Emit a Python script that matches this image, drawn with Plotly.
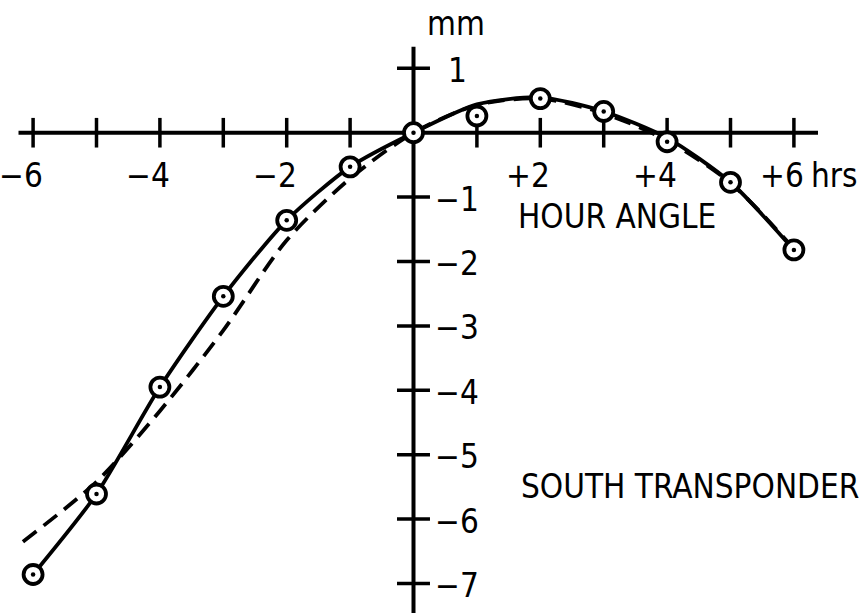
import plotly.graph_objects as go

# Measured displacement (mm) vs hour angle (hrs)
hours = [-6, -5, -4, -3, -2, -1, 0, 1, 2, 3, 4, 5, 6]
measured_mm = [-6.86, -5.61, -3.95, -2.54, -1.36, -0.53, 0.0, 0.26, 0.53, 0.33, -0.14, -0.77, -1.82]

# Smooth curve drawn through the measurements
fit_hours = [-6, -5, -4, -3, -2, -1, 0, 1, 2, 3, 4, 5, 6]
fit_mm = [-6.86, -5.61, -3.95, -2.54, -1.36, -0.53, 0.0, 0.44, 0.55, 0.33, -0.08, -0.77, -1.82]

# Predicted curve (dashed)
pred_hours = [-6.16, -5, -4, -3, -2, -1, 0, 1, 2, 3, 4, 5, 6]
pred_mm = [-6.35, -5.42, -4.32, -3.07, -1.67, -0.71, 0.0, 0.43, 0.53, 0.30, -0.12, -0.78, -1.80]

# Axis ticks and labels
x_ticks = [-6, -5, -4, -3, -2, -1, 1, 2, 3, 4, 5, 6]
x_labels = {-6: "\u22126", -4: "\u22124", -2: "\u22122", 2: "+2", 4: "+4", 6: "+6"}
y_ticks = [1, -1, -2, -3, -4, -5, -6, -7]
y_labels = {1: "1", -1: "\u22121", -2: "\u22122", -3: "\u22123", -4: "\u22124",
            -5: "\u22125", -6: "\u22126", -7: "\u22127"}

FONT = "DejaVu Sans Condensed, Liberation Sans Narrow, Liberation Sans, sans-serif"
FSIZE = 33
INK = "black"

fig = go.Figure()

# Crossed axes through the origin
x_axis_ext = (-6.23, 6.38)
y_axis_ext = (-7.6, 1.335)
fig.add_trace(go.Scatter(x=list(x_axis_ext), y=[0, 0], mode="lines",
                         line=dict(color=INK, width=4), hoverinfo="skip"))
fig.add_trace(go.Scatter(x=[0, 0], y=list(y_axis_ext), mode="lines",
                         line=dict(color=INK, width=4), hoverinfo="skip"))

# Tick marks crossing each axis
tx, ty = [], []
for t in x_ticks:
    tx += [t, t, None]
    ty += [-0.23, 0.23, None]
fig.add_trace(go.Scatter(x=tx, y=ty, mode="lines",
                         line=dict(color=INK, width=3.5), hoverinfo="skip"))
sx, sy = [], []
for t in y_ticks:
    sx += [-0.26, 0.26, None]
    sy += [t, t, None]
fig.add_trace(go.Scatter(x=sx, y=sy, mode="lines",
                         line=dict(color=INK, width=3.5), hoverinfo="skip"))

# Predicted (dashed) and fitted (solid) curves
fig.add_trace(go.Scatter(x=pred_hours, y=pred_mm, mode="lines",
                         line=dict(color=INK, width=3.8, dash="17px,9px",
                                   shape="spline", smoothing=0.8),
                         hoverinfo="skip"))
fig.add_trace(go.Scatter(x=fit_hours, y=fit_mm, mode="lines",
                         line=dict(color=INK, width=3.8, shape="spline", smoothing=0.7),
                         hoverinfo="skip"))

# Measured points: open circle with a centre dot
fig.add_trace(go.Scatter(x=hours, y=measured_mm, mode="markers",
                         marker=dict(symbol="circle", size=19, color="white",
                                     line=dict(color=INK, width=3.8)),
                         hoverinfo="skip"))
fig.add_trace(go.Scatter(x=hours, y=measured_mm, mode="markers",
                         marker=dict(symbol="circle", size=4.5, color=INK,
                                     line=dict(width=0)),
                         hoverinfo="skip"))

annotations = []
for t, lab in x_labels.items():
    annotations.append(dict(x=t, y=-0.66, text=lab, xanchor="right", yanchor="middle",
                            xshift=12, showarrow=False,
                            font=dict(family=FONT, size=FSIZE, color=INK)))
annotations.append(dict(x=6, y=-0.66, text="hrs", xanchor="left", yanchor="middle",
                        xshift=15, showarrow=False,
                        font=dict(family=FONT, size=FSIZE, color=INK)))
for t, lab in y_labels.items():
    annotations.append(dict(x=0.3 if t < 0 else 0.52, y=t, text=lab, xanchor="left",
                            yanchor="middle", yshift=-2, showarrow=False,
                            font=dict(family=FONT, size=FSIZE, color=INK)))
annotations.append(dict(x=0.67, y=1.69, text="mm", xanchor="center", yanchor="middle",
                        showarrow=False, font=dict(family=FONT, size=FSIZE, color=INK)))
annotations.append(dict(x=3.21, y=-1.30, text="HOUR ANGLE", xanchor="center",
                        yanchor="middle", showarrow=False,
                        font=dict(family=FONT, size=FSIZE, color=INK)))
annotations.append(dict(x=4.36, y=-5.49, text="SOUTH TRANSPONDER", xanchor="center",
                        yanchor="middle", showarrow=False,
                        font=dict(family=FONT, size=FSIZE, color=INK)))

fig.update_layout(
    width=867, height=613,
    margin=dict(l=0, r=0, t=0, b=0),
    paper_bgcolor="white", plot_bgcolor="white",
    showlegend=False,
    annotations=annotations,
    xaxis=dict(range=[-6.522, 7.153], visible=False, fixedrange=True),
    yaxis=dict(range=[-7.458, 2.061], visible=False, fixedrange=True),
)

fig.write_html("out.html")
